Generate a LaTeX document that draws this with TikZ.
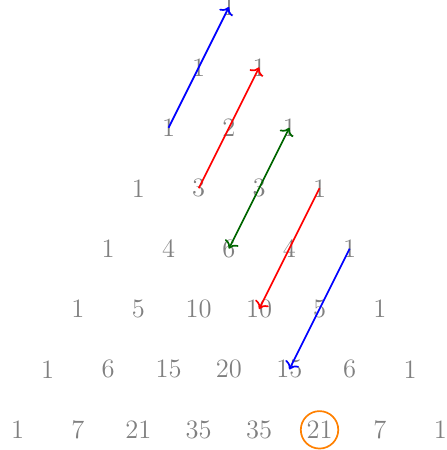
\documentclass[tikz,border=0pt]{standalone}
\usetikzlibrary{arrows.meta}

\definecolor{numgray}{RGB}{128,128,128}
\definecolor{darkgreen}{RGB}{0,102,0}
\definecolor{circorange}{RGB}{255,128,0}

\begin{document}
\begin{tikzpicture}[
        entry/.style={text=numgray, font=\fontsize{12.5}{15}\selectfont, inner sep=1pt},
        diag/.style={thick, ->},
        mark21/.style={circorange, thick}
    ]
            % Define dimensions
            \def\rows{7}
            \def\hspacing{1}
            \def\vspacing{1}
            \useasboundingbox (-3.79,0.116) rectangle (3.595,-7.334);
            % Entries of the triangle
            \foreach \n in {0,1,...,\rows}
                \foreach \k in {0,...,\n} {
                    \pgfmathtruncatemacro\val{factorial(\n)/(factorial(\k)*factorial(\n-\k))}
                    \node[entry] (n-\n-\k) at ({(\k-\n/2)*\hspacing},{-\n*\vspacing}) {\val};
                }
            % Diagonal arrows
            \draw[diag, blue] (n-2-0.center) -- (n-0-0.center);
            \draw[diag, red] (n-3-1.center) -- (n-1-1.center);
            \draw[diag, darkgreen, <->] (n-2-2.center) -- (n-4-2.center);
            \draw[diag, red] (n-3-3.center) -- (n-5-3.center);
            \draw[diag, blue] (n-4-4.center) -- (n-6-4.center);
            % Circle the sum
            \draw[mark21] (n-7-5.center) circle (0.31);
        \end{tikzpicture}
\end{document}
